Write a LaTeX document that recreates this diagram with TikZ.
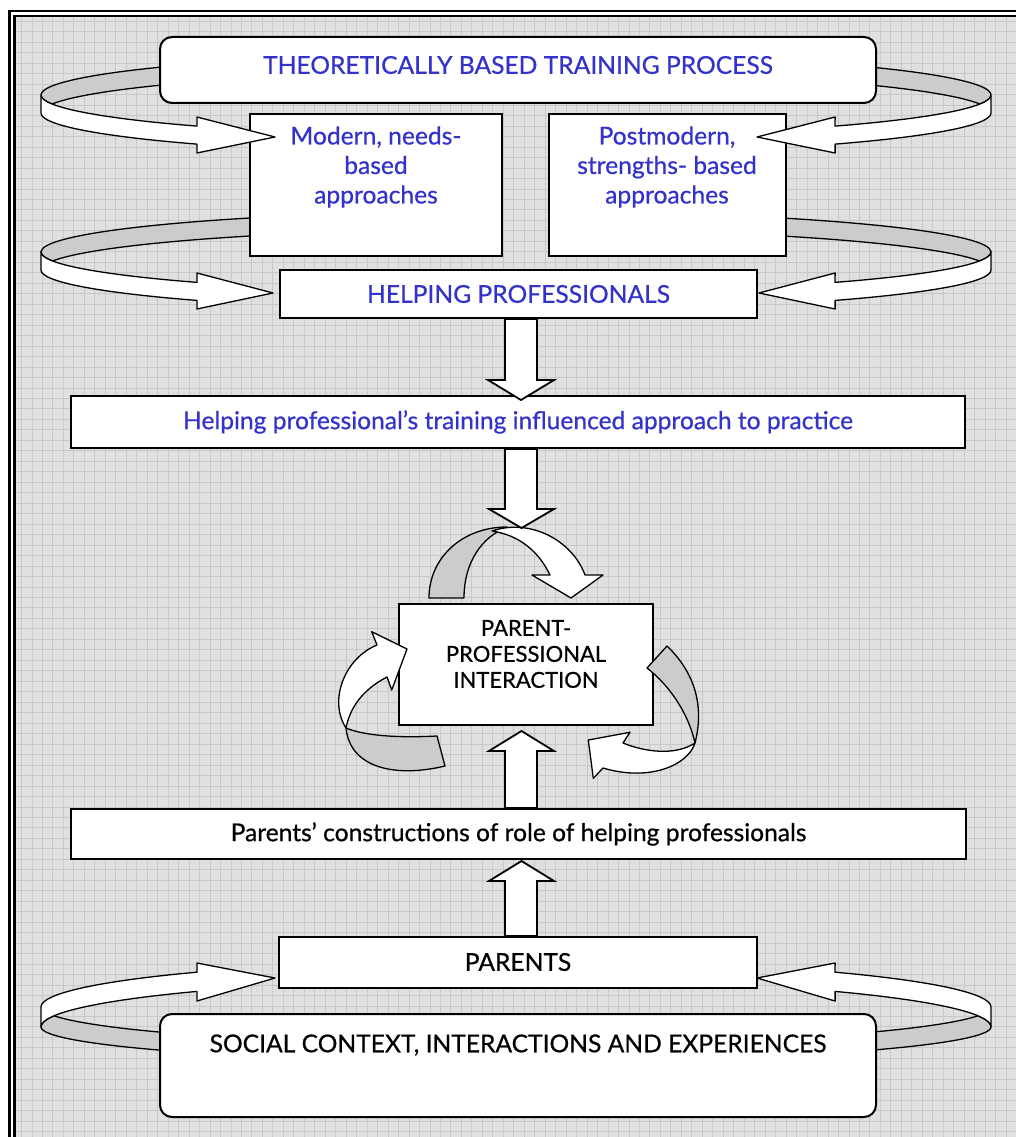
\documentclass[tikz,border=0pt]{standalone}
\usepackage{fontspec}
\setmainfont{Lato}[FakeBold=0.6]
\usetikzlibrary{calc}
\definecolor{txtblue}{RGB}{51,51,204}
\definecolor{bggray}{RGB}{224,224,224}
\definecolor{gridgray}{RGB}{200,200,200}
\definecolor{ribgray}{RGB}{204,204,204}
\begin{document}
\begin{tikzpicture}[x=1pt,y=-1pt,
  box/.style={draw=black, line width=2pt, fill=white, inner sep=0pt},
  rbox/.style={box, rounded corners=12pt},
  lbl/.style={inner sep=0pt, align=center, font=\fontsize{24.6}{29.5}\selectfont},
  bluetxt/.style={text=txtblue},
  rib/.style={draw=black, line width=1.3pt, line join=round},
  ribback/.style={rib, fill=ribgray},
  ribfront/.style={rib, fill=white},
  blk/.style={draw=black, line width=1.8pt, fill=white, line join=miter},
]
\useasboundingbox (0,0) rectangle (1016,1137);
% background and frame
\fill[white] (0,0) rectangle (1016,1137);
\fill[bggray] (15.5,17) rectangle (1016,1137);
\begin{scope}
\clip (15.5,17) rectangle (1016,1137);
\foreach \k in {1,...,97} {\draw[gridgray, line width=0.8pt] ({0.5+\k*10.474},0) -- ({0.5+\k*10.474},1137);}
\foreach \k in {1,...,109} {\draw[gridgray, line width=0.8pt] (0,{0.4+\k*10.474}) -- (1016,{0.4+\k*10.474});}
\end{scope}
\draw[line width=2.7pt] (9.3,1145) -- (9.3,11) -- (1025,11);
\draw[line width=2.2pt] (14.5,1145) -- (14.5,16) -- (1025,16);

% ---- back (grey) parts of side ribbons
\foreach \mir in {0,1}{
\begin{scope}[xshift={\mir*1032pt}, xscale={1-2*\mir}]
  % pair A
  \filldraw[ribback] (180.1,65.3) arc[start angle=225, end angle=167.6, x radius=475, y radius=42]
     arc[start angle=192.4, end angle=225, x radius=475, y radius=42] -- cycle;
  % pair B
  \filldraw[ribback] (264.3,217.2) arc[start angle=238, end angle=167.32, x radius=475, y radius=41]
     arc[start angle=192.68, end angle=238, x radius=475, y radius=41] -- cycle;
  % pair C
  \filldraw[ribback] (180.1,1051.7) arc[start angle=135, end angle=180, x radius=475, y radius=35]
     arc[start angle=180, end angle=193.45, x radius=475, y radius=48]
     arc[start angle=166.55, end angle=135, x radius=475, y radius=38] -- cycle;
\end{scope}
}

% ---- boxes
\node[rbox, minimum width=716pt, minimum height=66pt] (theory) at (518,70) {};
\node[box, minimum width=252pt, minimum height=142pt] (modern) at (376,185) {};
\node[box, minimum width=237pt, minimum height=142pt] (post) at (667.5,185) {};
\node[box, minimum width=477pt, minimum height=48pt] (hp) at (518.5,294) {};
\node[box, minimum width=894pt, minimum height=52pt] (train) at (518,422) {};
\node[box, minimum width=254pt, minimum height=121pt] (ppi) at (526,664.5) {};
\node[box, minimum width=895pt, minimum height=50pt] (cons) at (518.5,834) {};
\node[box, minimum width=478pt, minimum height=51pt] (parents) at (518,962.5) {};
\node[rbox, minimum width=716pt, minimum height=103pt] (social) at (518,1065.5) {};

% ---- front (white) parts of side ribbons
\foreach \mir in {0,1}{
\begin{scope}[xshift={\mir*1032pt}, xscale={1-2*\mir}]
  % pair A
  \filldraw[ribfront] (41,95) arc[start angle=180, end angle=132.2, x radius=475, y radius=42]
     -- (196.9,117) -- (275,137) -- (196.9,153) -- (196.9,144.1)
     arc[start angle=132.2, end angle=180, x radius=475, y radius=42] -- cycle;
  % pair B
  \filldraw[ribfront] (41,252) arc[start angle=180, end angle=132.2, x radius=475, y radius=41]
     -- (196.9,273) -- (273,293) -- (196.9,309) -- (196.9,300.4)
     arc[start angle=132.2, end angle=180, x radius=475, y radius=41] -- cycle;
  % pair C
  \filldraw[ribfront] (41,1007) arc[start angle=180, end angle=227.8, x radius=475, y radius=47]
     -- (196.9,963) -- (275,978) -- (196.9,1001) -- (196.9,991.4)
     arc[start angle=227.8, end angle=180, x radius=475, y radius=48] -- cycle;
\end{scope}
}

% ---- circular arrows around the interaction box
% top
\filldraw[ribback] (429,598) .. controls (429,558) and (462,527) .. (507,527)
   .. controls (482,537) and (464,562) .. (464,598) -- cycle;
\filldraw[ribfront] (492,531) .. controls (530,518) and (572,540) .. (585,575)
   -- (603,575) -- (571,598) -- (532,575) -- (550,575)
   .. controls (538,550) and (518,535) .. (492,531) -- cycle;
% left
\filldraw[ribback] (346,728) .. controls (350,768) and (395,778) .. (445,766)
   -- (437,736) .. controls (400,738) and (365,736) .. (346,728) -- cycle;
\filldraw[ribfront] (346,728) .. controls (350,708) and (362,690) .. (387,677)
   -- (391.7,690) -- (407,649) -- (371.7,631.7) -- (377,645)
   .. controls (345,658) and (328,700) .. (346,728) -- cycle;
% right
\filldraw[ribback] (667,646) .. controls (690,668) and (706,700) .. (695,743)
   .. controls (690,720) and (675,690) .. (647,668) -- cycle;
\filldraw[ribfront] (695,743) .. controls (688,765) and (650,782) .. (603,768)
   -- (593.3,778.3) -- (588.3,740) -- (630,732.3) -- (623,743)
   .. controls (645,752) and (675,756) .. (695,743) -- cycle;

% ---- straight block arrows
\coordinate (ax) at (521,0);
\draw[blk] (ax |- hp.south) ++(-16,0) -- ++(0,61) -- ++(-17,0) -- ++(33,20) -- ++(33,-20) -- ++(-17,0) -- ++(0,-61) -- cycle;
\draw[blk] (ax |- train.south) ++(-16,0) -- ++(0,60) -- ++(-16,0) -- ++(32.5,19) -- ++(32.5,-19) -- ++(-17,0) -- ++(0,-60) -- cycle;
\draw[blk] (ax |- cons.north) ++(-16,0) -- ++(0,-57) -- ++(-16,0) -- ++(32.5,-20) -- ++(32.5,20) -- ++(-17,0) -- ++(0,57) -- cycle;
\draw[blk] (ax |- parents.north) ++(-16,0) -- ++(0,-55) -- ++(-16,0) -- ++(32.5,-20) -- ++(32.5,20) -- ++(-17,0) -- ++(0,55) -- cycle;

% ---- texts
\node[lbl, bluetxt] (ttheory) at (518,65) {THEORETICALLY BASED TRAINING PROCESS};
\node[lbl, bluetxt] (tmodern) at (376,167) {Modern, needs-\\based\\approaches};
\node[lbl, bluetxt] (tpost) at (667,167) {Postmodern,\\strengths- based\\approaches};
\node[lbl, bluetxt] (thp) at (518.5,294) {HELPING PROFESSIONALS};
\node[lbl, bluetxt] (ttrain) at (518,422) {Helping professional’s training influenced approach to practice};
\node[lbl, font=\fontsize{22}{26}\selectfont] (tppi) at (526,654) {PARENT-\\PROFESSIONAL\\INTERACTION};
\node[lbl] (tcons) at (518.5,834) {Parents’ constructions of role of helping professionals};
\node[lbl] (tparents) at (518,962) {PARENTS};
\node[lbl] (tsocial) at (518,1045) {SOCIAL CONTEXT, INTERACTIONS AND EXPERIENCES};
\end{tikzpicture}
\end{document}
